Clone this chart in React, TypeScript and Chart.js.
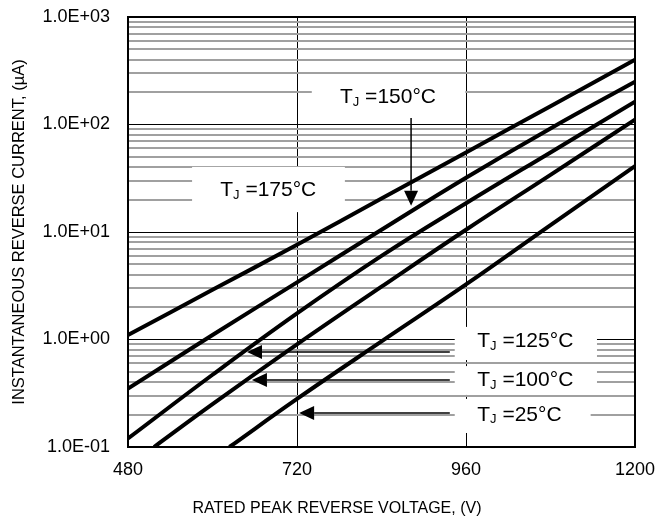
import React, { useEffect, useRef } from "react";
import { Chart, registerables } from "chart.js";

Chart.register(...registerables);

// ---- data (V = rated peak reverse voltage, I = reverse current in µA) ----
const V25 = [624, 720, 840, 960, 1080, 1200];
const I25 = [0.1, 0.28, 0.96, 3.25, 11.6, 41];

const V100 = [517, 600, 720, 840, 960, 1080, 1200];
const I100 = [0.1, 0.25, 0.9, 3.1, 10.5, 34, 111];

const V125 = [480, 600, 720, 840, 960, 1080, 1200];
const I125 = [0.12, 0.47, 1.75, 6.0, 18.5, 55, 163];

const V150 = [480, 600, 720, 840, 960, 1080, 1200];
const I150 = [0.35, 1.1, 3.4, 10.5, 32, 92, 250];

const V175 = [480, 600, 720, 840, 960, 1080, 1200];
const I175 = [1.1, 2.9, 7.6, 20.5, 55, 148, 400];

const xTickValues = [480, 720, 960, 1200];
const yTickValues = [0.1, 1, 10, 100, 1000];
const yTickLabels = ["1.0E-01", "1.0E+00", "1.0E+01", "1.0E+02", "1.0E+03"];

const xTitle = "RATED PEAK REVERSE VOLTAGE, (V)";
const yTitle = "INSTANTANEOUS REVERSE CURRENT, (\u00B5A)";

const tempLabels = ["25\u00B0C", "100\u00B0C", "125\u00B0C", "150\u00B0C", "175\u00B0C"];

// ---- annotation layout in data coordinates ----
type Note = {
  label: string;
  tx: number; ty: number; // text start (V, µA)
  box: [number, number, number, number]; // V1, V2, I1, I2
  arrow?: [number, number, number, number]; // from V,I to tip V,I
};

const notes: Note[] = [
  { label: tempLabels[3], tx: 781, ty: 180, box: [741, 959, 271, 115], arrow: [882, 115, 882, 17.5] },
  { label: tempLabels[4], tx: 611, ty: 24.6, box: [571, 788, 40.3, 15.3] },
  { label: tempLabels[2], tx: 976, ty: 0.968, box: [944, 1146, 1.31, 0.644], arrow: [937, 0.766, 649, 0.766] },
  { label: tempLabels[1], tx: 976, ty: 0.42, box: [944, 1146, 0.566, 0.305], arrow: [937, 0.42, 656, 0.42] },
  { label: tempLabels[0], tx: 976, ty: 0.199, box: [944, 1137, 0.28, 0.135], arrow: [937, 0.207, 723, 0.207] },
];

const FONT = "'Liberation Sans', Arial, Helvetica, sans-serif";

const toPts = (xs: number[], ys: number[]) => xs.map((x, i) => ({ x, y: ys[i] }));

const isDecade = (v: number) => yTickValues.some((d) => Math.abs(v - d) / d < 1e-6);

const annotationPlugin = {
  id: "notes",
  beforeDatasetsDraw(chart: any) {
    const { ctx, scales } = chart;
    const xs = scales.x, ys = scales.y;
    ctx.save();
    ctx.fillStyle = "#ffffff";
    for (const n of notes) {
      const x1 = xs.getPixelForValue(n.box[0]);
      const x2 = xs.getPixelForValue(n.box[1]);
      const y1 = ys.getPixelForValue(n.box[2]);
      const y2 = ys.getPixelForValue(n.box[3]);
      ctx.fillRect(x1, y1, x2 - x1, y2 - y1);
    }
    ctx.restore();
  },
  afterDatasetsDraw(chart: any) {
    const { ctx, scales } = chart;
    const xs = scales.x, ys = scales.y;
    ctx.save();
    ctx.fillStyle = "#000";
    ctx.strokeStyle = "#000";
    for (const n of notes) {
      let x = xs.getPixelForValue(n.tx);
      const y = ys.getPixelForValue(n.ty);
      ctx.textBaseline = "middle";
      ctx.textAlign = "left";
      ctx.font = `21px ${FONT}`;
      ctx.fillText("T", x, y);
      x += ctx.measureText("T").width;
      ctx.font = `13px ${FONT}`;
      ctx.fillText("J", x, y + 5);
      x += ctx.measureText("J").width;
      ctx.font = `21px ${FONT}`;
      ctx.fillText(" =" + n.label, x, y);
      if (n.arrow) {
        const ax1 = xs.getPixelForValue(n.arrow[0]);
        const ay1 = ys.getPixelForValue(n.arrow[1]);
        const ax2 = xs.getPixelForValue(n.arrow[2]);
        const ay2 = ys.getPixelForValue(n.arrow[3]);
        const ang = Math.atan2(ay2 - ay1, ax2 - ax1);
        const hl = 15, hw = 7;
        const bx = ax2 - hl * Math.cos(ang);
        const by = ay2 - hl * Math.sin(ang);
        ctx.lineWidth = 1.5;
        ctx.beginPath();
        ctx.moveTo(ax1, ay1);
        ctx.lineTo(bx, by);
        ctx.stroke();
        ctx.beginPath();
        ctx.moveTo(ax2, ay2);
        ctx.lineTo(bx + hw * Math.sin(ang), by - hw * Math.cos(ang));
        ctx.lineTo(bx - hw * Math.sin(ang), by + hw * Math.cos(ang));
        ctx.closePath();
        ctx.fill();
      }
    }
    ctx.restore();
  },
  afterDraw(chart: any) {
    const { ctx, chartArea, width, height } = chart;
    ctx.save();
    ctx.strokeStyle = "#000";
    ctx.lineWidth = 2;
    ctx.strokeRect(chartArea.left, chartArea.top, chartArea.right - chartArea.left, chartArea.bottom - chartArea.top);
    ctx.fillStyle = "#000";
    ctx.font = `16px ${FONT}`;
    ctx.textAlign = "center";
    ctx.textBaseline = "middle";
    ctx.fillText(xTitle, width / 2 + 8, height - 14);
    ctx.restore();
  },
};

export default function App() {
  const ref = useRef<HTMLCanvasElement | null>(null);

  useEffect(() => {
    if (!ref.current) return;
    Chart.defaults.font.family = FONT;
    Chart.defaults.color = "#000";

    const series = [
      { V: V175, I: I175 },
      { V: V150, I: I150 },
      { V: V125, I: I125 },
      { V: V100, I: I100 },
      { V: V25, I: I25 },
    ];

    const chart = new Chart(ref.current, {
      type: "line",
      data: {
        datasets: series.map((s) => ({
          data: toPts(s.V, s.I),
          borderColor: "#000",
          borderWidth: 4,
          pointRadius: 0,
          fill: false,
          tension: 0.4,
        })),
      },
      options: {
        animation: false,
        responsive: true,
        maintainAspectRatio: false,
        devicePixelRatio: 1,
        layout: { padding: { left: 0, top: 17, right: 23, bottom: 0 } },
        plugins: { legend: { display: false }, tooltip: { enabled: false } },
        scales: {
          x: {
            type: "linear",
            min: 480,
            max: 1200,
            afterBuildTicks: (s: any) => {
              s.ticks = xTickValues.map((v) => ({ value: v }));
            },
            afterFit: (s: any) => {
              s.height = 76;
              s.paddingLeft = 0;
              s.paddingRight = 0;
            },
            ticks: {
              autoSkip: false,
              maxRotation: 0,
              padding: 12,
              font: { size: 18 },
              color: "#000",
              callback: (v: any) => String(v),
            },
            grid: { color: "#000", lineWidth: 1, drawTicks: false },
            border: { display: true, color: "#000", width: 2 },
          },
          y: {
            type: "logarithmic",
            min: 0.1,
            max: 1000,
            afterBuildTicks: (s: any) => {
              const t: { value: number }[] = [];
              for (let i = 0; i < yTickValues.length - 1; i++) {
                for (let m = 1; m < 10; m++) t.push({ value: yTickValues[i] * m });
              }
              t.push({ value: yTickValues[yTickValues.length - 1] });
              s.ticks = t;
            },
            afterFit: (s: any) => {
              s.width = 128;
              s.paddingTop = 0;
              s.paddingBottom = 0;
            },
            ticks: {
              autoSkip: false,
              padding: 18,
              font: { size: 18 },
              color: "#000",
              callback: (v: any) => {
                const i = yTickValues.findIndex((d) => Math.abs(Number(v) - d) / d < 1e-6);
                return i >= 0 ? yTickLabels[i] : "";
              },
            },
            grid: {
              drawTicks: false,
              color: (c: any) => (isDecade(c.tick?.value ?? 0) ? "#000" : "#a0a0a0"),
              lineWidth: (c: any) => (isDecade(c.tick?.value ?? 0) ? 1 : 2),
            },
            border: { display: true, color: "#000", width: 2 },
            title: { display: true, text: yTitle, font: { size: 16.5 }, color: "#000", padding: { top: 10, bottom: 0 } },
          },
        },
      },
      plugins: [annotationPlugin],
    });
    return () => chart.destroy();
  }, []);

  return (
    <div style={{ position: "fixed", left: 0, top: 0, width: 658, height: 523, background: "#fff" }}>
      <canvas ref={ref} />
    </div>
  );
}
